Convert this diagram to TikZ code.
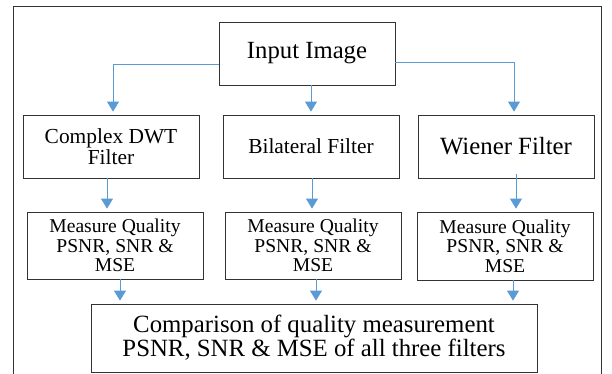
\documentclass[tikz,border=0pt]{standalone}
\usepackage{fontspec}
\setmainfont{Liberation Serif}
\usetikzlibrary{arrows.meta}
\definecolor{arrowblue}{RGB}{91,155,213}

\begin{document}
\begin{tikzpicture}[x=1pt,y=-1pt,
    box/.style={draw=black!80, line width=0.8pt, align=center, inner sep=0pt},
    arr/.style={arrowblue, line width=0.9pt, -{Triangle[width=12pt,length=10pt]}, shorten >=3pt}]

  \useasboundingbox (0,0) rectangle (612,374);
  \clip (0,0) rectangle (612,374);
  \draw[black!80, line width=0.8pt] (13,6.5) rectangle (601,390);

  % top
  \node[box, minimum width=176pt, minimum height=63pt, font=\fontsize{24.7}{28}\selectfont] (input) at (307,53.5) {Input Image};

  % filters
  \node[box, minimum width=176pt, minimum height=63pt, font=\fontsize{21.4}{18.5}\selectfont] (cdwt) at (111,146.5) {Complex DWT\\Filter};
  \node[box, minimum width=176pt, minimum height=63pt, font=\fontsize{21.4}{24}\selectfont] (bilat) at (311,146.5) {Bilateral Filter};
  \node[box, minimum width=176pt, minimum height=63pt, font=\fontsize{24.8}{28}\selectfont] (wiener) at (506,146.5) {Wiener Filter};

  % quality
  \node[box, minimum width=176pt, minimum height=67pt, font=\fontsize{19.6}{19.5}\selectfont] (mqa) at (115,245.5) {Measure Quality\\PSNR, SNR \&\\MSE};
  \node[box, minimum width=176pt, minimum height=67pt, font=\fontsize{19.6}{19.5}\selectfont] (mqb) at (313,245.5) {Measure Quality\\PSNR, SNR \&\\MSE};
  \node[box, minimum width=176pt, minimum height=68pt, font=\fontsize{19.6}{19.5}\selectfont] (mqc) at (505,246) {Measure Quality\\PSNR, SNR \&\\MSE};

  % comparison
  \node[box, minimum width=446pt, minimum height=68pt, font=\fontsize{24.8}{21.5}\selectfont] (comp) at (314,338) {Comparison of quality measurement\\PSNR, SNR \& MSE of all three filters};

  \draw[arr] ([yshift=-10.5pt]input.west) -| ([xshift=2pt]cdwt.north);
  \draw[arr] ([xshift=4pt]input.south) -- ([xshift=4pt]input.south |- bilat.north);
  \draw[arr] ([yshift=-8.5pt]input.east) -| ([xshift=8pt]wiener.north);

  \draw[arr] ([xshift=-4pt]cdwt.south) -- ([xshift=-4pt]cdwt.south |- mqa.north);
  \draw[arr] ([xshift=1pt]bilat.south) -- ([xshift=1pt]bilat.south |- mqb.north);
  \draw[arr] ([xshift=10pt,yshift=4pt]wiener.south) -- ([xshift=10pt]wiener.south |- mqc.north);

  \draw[arr] ([xshift=5pt]mqa.south) -- ([xshift=5pt]mqa.south |- comp.north);
  \draw[arr] ([xshift=3pt]mqb.south) -- ([xshift=3pt]mqb.south |- comp.north);
  \draw[arr] ([xshift=8pt]mqc.south) -- ([xshift=8pt]mqc.south |- comp.north);

\end{tikzpicture}
\end{document}
